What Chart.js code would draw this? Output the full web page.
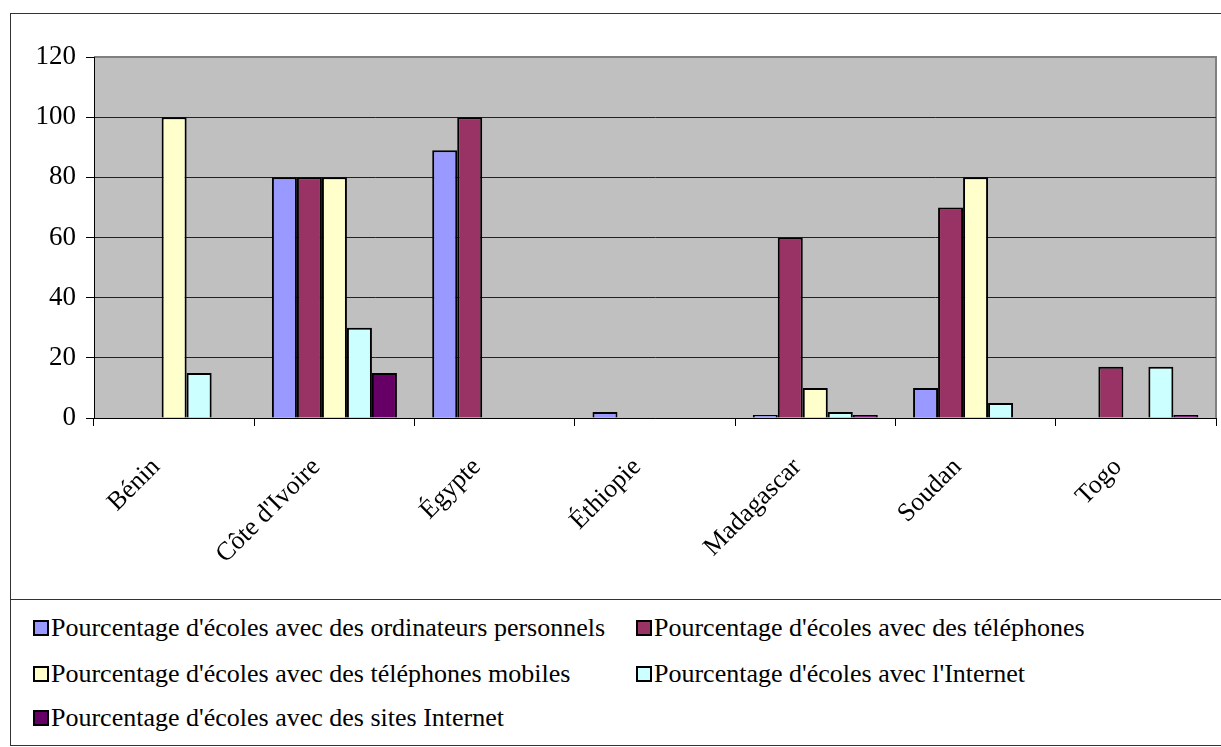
<!DOCTYPE html>
<html>
<head>
<meta charset="utf-8">
<script src="https://cdn.jsdelivr.net/npm/chart.js"></script>
<style>
  body { margin: 0; background: #fff; font-family: "Liberation Serif", "Times New Roman", serif; }
  #cadre { position: absolute; left: 10px; top: 13px; width: 1230px; height: 731px; border: 1px solid #333; }
  #zone { position: absolute; left: 1px; top: 1px; width: 1210px; height: 583px; }
  #legende { position: absolute; left: 0; top: 585px; width: 1230px; height: 146px; border-top: 1px solid #333; }
  .item { position: absolute; font-size: 26px; line-height: 28px; white-space: nowrap; color: #000; }
  .carre { display: inline-block; width: 12px; height: 12px; border: 2px solid #000; margin-right: 2px; vertical-align: 0px; }
</style>
</head>
<body>
<div id="cadre">
  <div id="zone"><canvas id="graphique"></canvas></div>
  <div id="legende"></div>
</div>
<script>
// pays
const pays = ["Bénin", "Côte d'Ivoire", "Égypte", "Éthiopie", "Madagascar", "Soudan", "Togo"];

// valeurs en %
const ordinateurs = [0, 80, 89, 2, 1, 10, 0];
const telephones = [0, 80, 100, 0, 60, 70, 17];
const mobiles = [100, 80, 0, 0, 10, 80, 0];
const internet = [15, 30, 0, 0, 2, 5, 17];
const sitesWeb = [0, 15, 0, 0, 1, 0, 1];

const series = [
  "Pourcentage d'écoles avec des ordinateurs personnels",
  "Pourcentage d'écoles avec des téléphones",
  "Pourcentage d'écoles avec des téléphones mobiles",
  "Pourcentage d'écoles avec l'Internet",
  "Pourcentage d'écoles avec des sites Internet"
];
const couleurs = ["#9999FF", "#993366", "#FFFFCC", "#CCFFFF", "#660066"];
const valeurs = [ordinateurs, telephones, mobiles, internet, sitesWeb];

const ticksY = [0, 20, 40, 60, 80, 100, 120];

// fond gris de la zone de tracé
const fondGris = {
  id: "fondGris",
  beforeDraw(chart) {
    const a = chart.chartArea;
    const ctx = chart.ctx;
    ctx.save();
    ctx.fillStyle = "#C0C0C0";
    ctx.fillRect(a.left, a.top, a.right - a.left, a.bottom - a.top);
    ctx.strokeStyle = "#808080";
    ctx.lineWidth = 2;
    ctx.beginPath();
    ctx.moveTo(a.left, a.top);
    ctx.lineTo(a.right, a.top);
    ctx.lineTo(a.right, a.bottom);
    ctx.stroke();
    ctx.restore();
  }
};

const datasets = [];
for (let i = 0; i < series.length; i++) {
  datasets.push({
    label: series[i],
    data: valeurs[i],
    backgroundColor: couleurs[i],
    borderColor: "#000",
    borderWidth: 2,
    categoryPercentage: 0.78,
    barPercentage: 1
  });
}

new Chart(document.getElementById("graphique"), {
  type: "bar",
  data: { labels: pays, datasets: datasets },
  options: {
    responsive: true,
    maintainAspectRatio: false,
    animation: false,
    layout: { padding: { top: 42, right: 6, left: 0, bottom: 0 } },
    plugins: { legend: { display: false }, tooltip: { enabled: false } },
    scales: {
      x: {
        grid: { drawOnChartArea: false, drawTicks: true, tickLength: 8, tickColor: "#000" },
        border: { color: "#000", width: 1 },
        ticks: {
          color: "#000",
          maxRotation: 45,
          minRotation: 45,
          padding: 26,
          labelOffset: -18,
          font: { family: "Liberation Serif", size: 26 }
        },
        afterFit(scale) { scale.height = 180; }
      },
      y: {
        min: 0,
        max: 120,
        afterBuildTicks(scale) { scale.ticks = ticksY.map(v => ({ value: v })); },
        grid: {
          color: ctx => (ctx.tick && ctx.tick.value === 120 ? "rgba(0,0,0,0)" : "#222"),
          lineWidth: 1,
          tickLength: 8,
          tickColor: "#000"
        },
        border: { color: "#000", width: 1 },
        ticks: {
          color: "#000",
          padding: 10,
          font: { family: "Liberation Serif", size: 27 }
        },
        afterFit(scale) { scale.width = 82; }
      }
    }
  },
  plugins: [fondGris]
});

// légende en html (2 colonnes)
const legende = document.getElementById("legende");
const posX = [22, 625];
const posY = [14, 60, 104];
for (let i = 0; i < series.length; i++) {
  const d = document.createElement("div");
  d.className = "item";
  d.style.left = posX[i % 2] + "px";
  d.style.top = posY[Math.floor(i / 2)] + "px";
  d.innerHTML = '<span class="carre" style="background:' + couleurs[i] + '"></span>' + series[i];
  legende.appendChild(d);
}
</script>
</body>
</html>
